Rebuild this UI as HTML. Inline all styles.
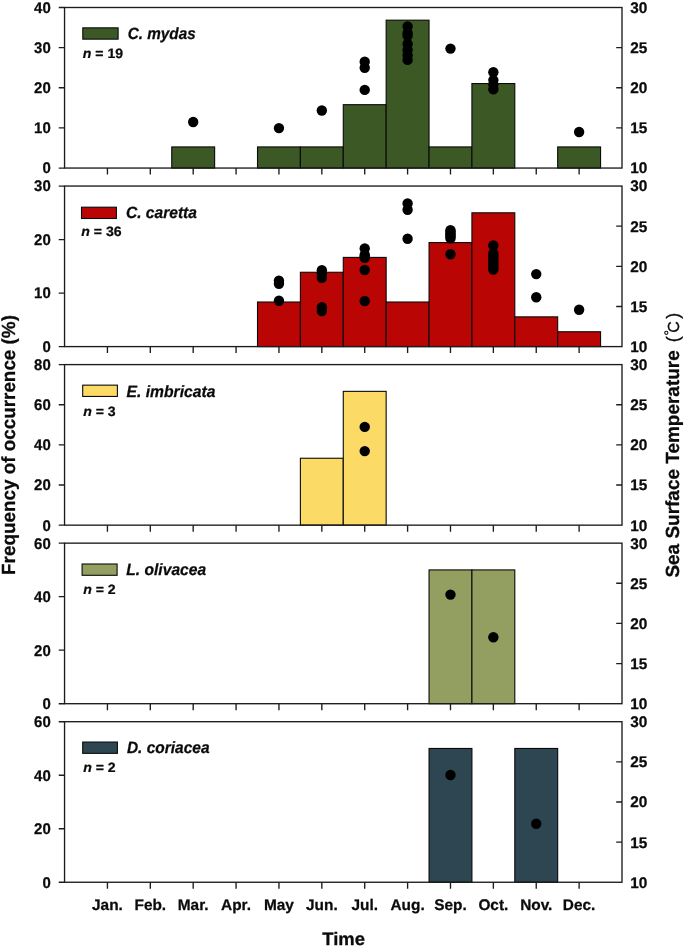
<!DOCTYPE html>
<html><head><meta charset="utf-8"><title>Sea turtle occurrence</title>
<style>html,body{margin:0;padding:0;background:#fff}svg{display:block;will-change:transform}text{text-rendering:geometricPrecision;font-family:"Liberation Sans",sans-serif;fill:#0b0b0b;stroke:#0b0b0b;stroke-width:0.26px;stroke-linejoin:round}</style></head><body>
<svg width="685" height="948" viewBox="0 0 685 948">
<rect x="0" y="0" width="685" height="948" fill="#ffffff"/>
<rect x="171.75" y="146.93" width="42.88" height="21.12" fill="#3b5825" stroke="#0a0a0a" stroke-width="1.1"/>
<rect x="257.51" y="146.93" width="42.88" height="21.12" fill="#3b5825" stroke="#0a0a0a" stroke-width="1.1"/>
<rect x="300.39" y="146.93" width="42.88" height="21.12" fill="#3b5825" stroke="#0a0a0a" stroke-width="1.1"/>
<rect x="343.28" y="104.68" width="42.88" height="63.38" fill="#3b5825" stroke="#0a0a0a" stroke-width="1.1"/>
<rect x="386.16" y="20.18" width="42.88" height="147.88" fill="#3b5825" stroke="#0a0a0a" stroke-width="1.1"/>
<rect x="429.04" y="146.93" width="42.88" height="21.12" fill="#3b5825" stroke="#0a0a0a" stroke-width="1.1"/>
<rect x="471.92" y="83.55" width="42.88" height="84.50" fill="#3b5825" stroke="#0a0a0a" stroke-width="1.1"/>
<rect x="557.68" y="146.93" width="42.88" height="21.12" fill="#3b5825" stroke="#0a0a0a" stroke-width="1.1"/>
<rect x="64.55" y="7.5" width="557.45" height="160.55" fill="none" stroke="#1c1c1c" stroke-width="1.35"/>
<path d="M107.43 168.05v6.5M150.31 168.05v6.5M193.19 168.05v6.5M236.07 168.05v6.5M278.95 168.05v6.5M321.83 168.05v6.5M364.72 168.05v6.5M407.60 168.05v6.5M450.48 168.05v6.5M493.36 168.05v6.5M536.24 168.05v6.5M579.12 168.05v6.5M64.55 168.05h-5.8M64.55 127.91h-5.8M64.55 87.78h-5.8M64.55 47.64h-5.8M64.55 7.50h-5.8M622.0 127.91h-5.8M622.0 87.78h-5.8M622.0 47.64h-5.8" stroke="#1c1c1c" stroke-width="1.35" fill="none"/>
<text transform="translate(50.70 173.45) scale(0.97 1.0)" font-size="15.4" font-weight="bold" text-anchor="end">0</text>
<text transform="translate(50.70 133.31) scale(0.97 1.0)" font-size="15.4" font-weight="bold" text-anchor="end">10</text>
<text transform="translate(50.70 93.18) scale(0.97 1.0)" font-size="15.4" font-weight="bold" text-anchor="end">20</text>
<text transform="translate(50.70 53.04) scale(0.97 1.0)" font-size="15.4" font-weight="bold" text-anchor="end">30</text>
<text transform="translate(50.70 12.90) scale(0.97 1.0)" font-size="15.4" font-weight="bold" text-anchor="end">40</text>
<text transform="translate(630.20 173.45) scale(1.0 1.0)" font-size="15.4" font-weight="bold">10</text>
<text transform="translate(630.20 133.31) scale(1.0 1.0)" font-size="15.4" font-weight="bold">15</text>
<text transform="translate(630.20 93.18) scale(1.0 1.0)" font-size="15.4" font-weight="bold">20</text>
<text transform="translate(630.20 53.04) scale(1.0 1.0)" font-size="15.4" font-weight="bold">25</text>
<text transform="translate(630.20 12.90) scale(1.0 1.0)" font-size="15.4" font-weight="bold">30</text>
<circle cx="193.19" cy="122.0" r="5.2" fill="#000"/>
<circle cx="278.95" cy="128.1" r="5.2" fill="#000"/>
<circle cx="321.83" cy="110.5" r="5.2" fill="#000"/>
<circle cx="364.72" cy="61.7" r="5.2" fill="#000"/>
<circle cx="364.72" cy="67.8" r="5.2" fill="#000"/>
<circle cx="364.72" cy="89.9" r="5.2" fill="#000"/>
<circle cx="407.60" cy="26.5" r="5.2" fill="#000"/>
<circle cx="407.60" cy="33.1" r="5.2" fill="#000"/>
<circle cx="407.60" cy="35.8" r="5.2" fill="#000"/>
<circle cx="407.60" cy="43.9" r="5.2" fill="#000"/>
<circle cx="407.60" cy="49.9" r="5.2" fill="#000"/>
<circle cx="407.60" cy="55.3" r="5.2" fill="#000"/>
<circle cx="407.60" cy="59.9" r="5.2" fill="#000"/>
<circle cx="450.48" cy="48.6" r="5.2" fill="#000"/>
<circle cx="493.36" cy="72.3" r="5.2" fill="#000"/>
<circle cx="493.36" cy="80.1" r="5.2" fill="#000"/>
<circle cx="493.36" cy="84.6" r="5.2" fill="#000"/>
<circle cx="493.36" cy="89.3" r="5.2" fill="#000"/>
<circle cx="579.12" cy="132.0" r="5.2" fill="#000"/>
<rect x="82.80" y="27.85" width="35.3" height="11.3" fill="#3b5825" stroke="#0a0a0a" stroke-width="1.1"/>
<text transform="translate(127.70 38.80) scale(1 1.0)" font-size="16.3" font-weight="bold" font-style="italic" textLength="68.0" lengthAdjust="spacingAndGlyphs">C. mydas</text>
<text transform="translate(82.80 58.40) scale(1 0.96)" font-size="14.1" font-weight="bold"><tspan font-style="italic">n</tspan> = 19</text>
<rect x="257.51" y="302.00" width="42.88" height="44.60" fill="#ba0505" stroke="#0a0a0a" stroke-width="1.1"/>
<rect x="300.39" y="272.27" width="42.88" height="74.33" fill="#ba0505" stroke="#0a0a0a" stroke-width="1.1"/>
<rect x="343.28" y="257.41" width="42.88" height="89.19" fill="#ba0505" stroke="#0a0a0a" stroke-width="1.1"/>
<rect x="386.16" y="302.00" width="42.88" height="44.60" fill="#ba0505" stroke="#0a0a0a" stroke-width="1.1"/>
<rect x="429.04" y="242.54" width="42.88" height="104.06" fill="#ba0505" stroke="#0a0a0a" stroke-width="1.1"/>
<rect x="471.92" y="212.81" width="42.88" height="133.79" fill="#ba0505" stroke="#0a0a0a" stroke-width="1.1"/>
<rect x="514.80" y="316.87" width="42.88" height="29.73" fill="#ba0505" stroke="#0a0a0a" stroke-width="1.1"/>
<rect x="557.68" y="331.73" width="42.88" height="14.87" fill="#ba0505" stroke="#0a0a0a" stroke-width="1.1"/>
<rect x="64.55" y="186.05" width="557.45" height="160.55" fill="none" stroke="#1c1c1c" stroke-width="1.35"/>
<path d="M107.43 346.6v6.5M150.31 346.6v6.5M193.19 346.6v6.5M236.07 346.6v6.5M278.95 346.6v6.5M321.83 346.6v6.5M364.72 346.6v6.5M407.60 346.6v6.5M450.48 346.6v6.5M493.36 346.6v6.5M536.24 346.6v6.5M579.12 346.6v6.5M64.55 346.60h-5.8M64.55 293.08h-5.8M64.55 239.57h-5.8M64.55 186.05h-5.8M622.0 306.46h-5.8M622.0 266.33h-5.8M622.0 226.19h-5.8" stroke="#1c1c1c" stroke-width="1.35" fill="none"/>
<text transform="translate(50.70 352.00) scale(0.97 1.0)" font-size="15.4" font-weight="bold" text-anchor="end">0</text>
<text transform="translate(50.70 298.48) scale(0.97 1.0)" font-size="15.4" font-weight="bold" text-anchor="end">10</text>
<text transform="translate(50.70 244.97) scale(0.97 1.0)" font-size="15.4" font-weight="bold" text-anchor="end">20</text>
<text transform="translate(50.70 191.45) scale(0.97 1.0)" font-size="15.4" font-weight="bold" text-anchor="end">30</text>
<text transform="translate(630.20 352.00) scale(1.0 1.0)" font-size="15.4" font-weight="bold">10</text>
<text transform="translate(630.20 311.86) scale(1.0 1.0)" font-size="15.4" font-weight="bold">15</text>
<text transform="translate(630.20 271.73) scale(1.0 1.0)" font-size="15.4" font-weight="bold">20</text>
<text transform="translate(630.20 231.59) scale(1.0 1.0)" font-size="15.4" font-weight="bold">25</text>
<text transform="translate(630.20 191.45) scale(1.0 1.0)" font-size="15.4" font-weight="bold">30</text>
<circle cx="278.95" cy="280.8" r="5.2" fill="#000"/>
<circle cx="278.95" cy="283.7" r="5.2" fill="#000"/>
<circle cx="278.95" cy="300.8" r="5.2" fill="#000"/>
<circle cx="321.83" cy="270.2" r="5.2" fill="#000"/>
<circle cx="321.83" cy="273.8" r="5.2" fill="#000"/>
<circle cx="321.83" cy="277.8" r="5.2" fill="#000"/>
<circle cx="321.83" cy="307.3" r="5.2" fill="#000"/>
<circle cx="321.83" cy="311.0" r="5.2" fill="#000"/>
<circle cx="364.72" cy="248.5" r="5.2" fill="#000"/>
<circle cx="364.72" cy="254.8" r="5.2" fill="#000"/>
<circle cx="364.72" cy="256.5" r="5.2" fill="#000"/>
<circle cx="364.72" cy="257.9" r="5.2" fill="#000"/>
<circle cx="364.72" cy="270.0" r="5.2" fill="#000"/>
<circle cx="364.72" cy="301.0" r="5.2" fill="#000"/>
<circle cx="407.60" cy="203.4" r="5.2" fill="#000"/>
<circle cx="407.60" cy="209.8" r="5.2" fill="#000"/>
<circle cx="407.60" cy="238.7" r="5.2" fill="#000"/>
<circle cx="450.48" cy="230.1" r="5.2" fill="#000"/>
<circle cx="450.48" cy="231.8" r="5.2" fill="#000"/>
<circle cx="450.48" cy="233.4" r="5.2" fill="#000"/>
<circle cx="450.48" cy="235.1" r="5.2" fill="#000"/>
<circle cx="450.48" cy="236.8" r="5.2" fill="#000"/>
<circle cx="450.48" cy="238.4" r="5.2" fill="#000"/>
<circle cx="450.48" cy="254.2" r="5.2" fill="#000"/>
<circle cx="493.36" cy="245.5" r="5.2" fill="#000"/>
<circle cx="493.36" cy="253.1" r="5.2" fill="#000"/>
<circle cx="493.36" cy="255.4" r="5.2" fill="#000"/>
<circle cx="493.36" cy="257.8" r="5.2" fill="#000"/>
<circle cx="493.36" cy="260.1" r="5.2" fill="#000"/>
<circle cx="493.36" cy="262.5" r="5.2" fill="#000"/>
<circle cx="493.36" cy="264.8" r="5.2" fill="#000"/>
<circle cx="493.36" cy="267.2" r="5.2" fill="#000"/>
<circle cx="493.36" cy="269.5" r="5.2" fill="#000"/>
<circle cx="536.24" cy="274.1" r="5.2" fill="#000"/>
<circle cx="536.24" cy="297.2" r="5.2" fill="#000"/>
<circle cx="579.12" cy="309.8" r="5.2" fill="#000"/>
<rect x="81.50" y="207.20" width="34.9" height="11.3" fill="#ba0505" stroke="#0a0a0a" stroke-width="1.1"/>
<text transform="translate(125.95 218.05) scale(1 1.0)" font-size="16.3" font-weight="bold" font-style="italic" textLength="71.0" lengthAdjust="spacingAndGlyphs">C. caretta</text>
<text transform="translate(81.30 236.25) scale(1 0.96)" font-size="14.1" font-weight="bold"><tspan font-style="italic">n</tspan> = 36</text>
<rect x="300.39" y="458.25" width="42.88" height="66.90" fill="#fbda66" stroke="#0a0a0a" stroke-width="1.1"/>
<rect x="343.28" y="391.36" width="42.88" height="133.79" fill="#fbda66" stroke="#0a0a0a" stroke-width="1.1"/>
<rect x="64.55" y="364.6" width="557.45" height="160.55" fill="none" stroke="#1c1c1c" stroke-width="1.35"/>
<path d="M107.43 525.15v6.5M150.31 525.15v6.5M193.19 525.15v6.5M236.07 525.15v6.5M278.95 525.15v6.5M321.83 525.15v6.5M364.72 525.15v6.5M407.60 525.15v6.5M450.48 525.15v6.5M493.36 525.15v6.5M536.24 525.15v6.5M579.12 525.15v6.5M64.55 525.15h-5.8M64.55 485.01h-5.8M64.55 444.88h-5.8M64.55 404.74h-5.8M64.55 364.60h-5.8M622.0 485.01h-5.8M622.0 444.88h-5.8M622.0 404.74h-5.8" stroke="#1c1c1c" stroke-width="1.35" fill="none"/>
<text transform="translate(50.70 530.55) scale(0.97 1.0)" font-size="15.4" font-weight="bold" text-anchor="end">0</text>
<text transform="translate(50.70 490.41) scale(0.97 1.0)" font-size="15.4" font-weight="bold" text-anchor="end">20</text>
<text transform="translate(50.70 450.27) scale(0.97 1.0)" font-size="15.4" font-weight="bold" text-anchor="end">40</text>
<text transform="translate(50.70 410.14) scale(0.97 1.0)" font-size="15.4" font-weight="bold" text-anchor="end">60</text>
<text transform="translate(50.70 370.00) scale(0.97 1.0)" font-size="15.4" font-weight="bold" text-anchor="end">80</text>
<text transform="translate(630.20 530.55) scale(1.0 1.0)" font-size="15.4" font-weight="bold">10</text>
<text transform="translate(630.20 490.41) scale(1.0 1.0)" font-size="15.4" font-weight="bold">15</text>
<text transform="translate(630.20 450.27) scale(1.0 1.0)" font-size="15.4" font-weight="bold">20</text>
<text transform="translate(630.20 410.14) scale(1.0 1.0)" font-size="15.4" font-weight="bold">25</text>
<text transform="translate(630.20 370.00) scale(1.0 1.0)" font-size="15.4" font-weight="bold">30</text>
<circle cx="364.72" cy="426.9" r="5.2" fill="#000"/>
<circle cx="364.72" cy="451.1" r="5.2" fill="#000"/>
<rect x="82.70" y="385.15" width="34.7" height="11.3" fill="#fbda66" stroke="#0a0a0a" stroke-width="1.1"/>
<text transform="translate(126.50 396.60) scale(1 1.0)" font-size="16.3" font-weight="bold" font-style="italic" textLength="88.9" lengthAdjust="spacingAndGlyphs">E. imbricata</text>
<text transform="translate(83.20 415.50) scale(1 0.96)" font-size="14.1" font-weight="bold"><tspan font-style="italic">n</tspan> = 3</text>
<rect x="429.04" y="569.91" width="42.88" height="133.79" fill="#939f60" stroke="#0a0a0a" stroke-width="1.1"/>
<rect x="471.92" y="569.91" width="42.88" height="133.79" fill="#939f60" stroke="#0a0a0a" stroke-width="1.1"/>
<rect x="64.55" y="543.15" width="557.45" height="160.55" fill="none" stroke="#1c1c1c" stroke-width="1.35"/>
<path d="M107.43 703.7v6.5M150.31 703.7v6.5M193.19 703.7v6.5M236.07 703.7v6.5M278.95 703.7v6.5M321.83 703.7v6.5M364.72 703.7v6.5M407.60 703.7v6.5M450.48 703.7v6.5M493.36 703.7v6.5M536.24 703.7v6.5M579.12 703.7v6.5M64.55 703.70h-5.8M64.55 650.18h-5.8M64.55 596.67h-5.8M64.55 543.15h-5.8M622.0 663.56h-5.8M622.0 623.42h-5.8M622.0 583.29h-5.8" stroke="#1c1c1c" stroke-width="1.35" fill="none"/>
<text transform="translate(50.70 709.10) scale(0.97 1.0)" font-size="15.4" font-weight="bold" text-anchor="end">0</text>
<text transform="translate(50.70 655.58) scale(0.97 1.0)" font-size="15.4" font-weight="bold" text-anchor="end">20</text>
<text transform="translate(50.70 602.07) scale(0.97 1.0)" font-size="15.4" font-weight="bold" text-anchor="end">40</text>
<text transform="translate(50.70 548.55) scale(0.97 1.0)" font-size="15.4" font-weight="bold" text-anchor="end">60</text>
<text transform="translate(630.20 709.10) scale(1.0 1.0)" font-size="15.4" font-weight="bold">10</text>
<text transform="translate(630.20 668.96) scale(1.0 1.0)" font-size="15.4" font-weight="bold">15</text>
<text transform="translate(630.20 628.82) scale(1.0 1.0)" font-size="15.4" font-weight="bold">20</text>
<text transform="translate(630.20 588.69) scale(1.0 1.0)" font-size="15.4" font-weight="bold">25</text>
<text transform="translate(630.20 548.55) scale(1.0 1.0)" font-size="15.4" font-weight="bold">30</text>
<circle cx="450.48" cy="594.6" r="5.2" fill="#000"/>
<circle cx="493.36" cy="637.3" r="5.2" fill="#000"/>
<rect x="82.10" y="564.00" width="35.0" height="11.3" fill="#939f60" stroke="#0a0a0a" stroke-width="1.1"/>
<text transform="translate(126.30 575.25) scale(1 1.0)" font-size="16.3" font-weight="bold" font-style="italic" textLength="79.8" lengthAdjust="spacingAndGlyphs">L. olivacea</text>
<text transform="translate(83.20 594.05) scale(1 0.96)" font-size="14.1" font-weight="bold"><tspan font-style="italic">n</tspan> = 2</text>
<rect x="429.04" y="748.46" width="42.88" height="133.79" fill="#2e4652" stroke="#0a0a0a" stroke-width="1.1"/>
<rect x="514.80" y="748.46" width="42.88" height="133.79" fill="#2e4652" stroke="#0a0a0a" stroke-width="1.1"/>
<rect x="64.55" y="721.7" width="557.45" height="160.55" fill="none" stroke="#1c1c1c" stroke-width="1.35"/>
<path d="M107.43 882.25v6.5M150.31 882.25v6.5M193.19 882.25v6.5M236.07 882.25v6.5M278.95 882.25v6.5M321.83 882.25v6.5M364.72 882.25v6.5M407.60 882.25v6.5M450.48 882.25v6.5M493.36 882.25v6.5M536.24 882.25v6.5M579.12 882.25v6.5M64.55 882.25h-5.8M64.55 828.73h-5.8M64.55 775.22h-5.8M64.55 721.70h-5.8M622.0 842.11h-5.8M622.0 801.98h-5.8M622.0 761.84h-5.8" stroke="#1c1c1c" stroke-width="1.35" fill="none"/>
<text transform="translate(50.70 887.65) scale(0.97 1.0)" font-size="15.4" font-weight="bold" text-anchor="end">0</text>
<text transform="translate(50.70 834.13) scale(0.97 1.0)" font-size="15.4" font-weight="bold" text-anchor="end">20</text>
<text transform="translate(50.70 780.62) scale(0.97 1.0)" font-size="15.4" font-weight="bold" text-anchor="end">40</text>
<text transform="translate(50.70 727.10) scale(0.97 1.0)" font-size="15.4" font-weight="bold" text-anchor="end">60</text>
<text transform="translate(630.20 887.65) scale(1.0 1.0)" font-size="15.4" font-weight="bold">10</text>
<text transform="translate(630.20 847.51) scale(1.0 1.0)" font-size="15.4" font-weight="bold">15</text>
<text transform="translate(630.20 807.38) scale(1.0 1.0)" font-size="15.4" font-weight="bold">20</text>
<text transform="translate(630.20 767.24) scale(1.0 1.0)" font-size="15.4" font-weight="bold">25</text>
<text transform="translate(630.20 727.10) scale(1.0 1.0)" font-size="15.4" font-weight="bold">30</text>
<circle cx="450.48" cy="775.0" r="5.2" fill="#000"/>
<circle cx="536.24" cy="823.7" r="5.2" fill="#000"/>
<rect x="82.70" y="742.05" width="34.7" height="11.3" fill="#2e4652" stroke="#0a0a0a" stroke-width="1.1"/>
<text transform="translate(126.90 752.90) scale(1 1.0)" font-size="16.3" font-weight="bold" font-style="italic" textLength="82.6" lengthAdjust="spacingAndGlyphs">D. coriacea</text>
<text transform="translate(83.20 771.90) scale(1 0.96)" font-size="14.1" font-weight="bold"><tspan font-style="italic">n</tspan> = 2</text>
<text transform="translate(107.43 910.10) scale(1 1.0)" font-size="15.4" font-weight="bold" text-anchor="middle">Jan.</text>
<text transform="translate(150.31 910.10) scale(1 1.0)" font-size="15.4" font-weight="bold" text-anchor="middle">Feb.</text>
<text transform="translate(193.19 910.10) scale(1 1.0)" font-size="15.4" font-weight="bold" text-anchor="middle">Mar.</text>
<text transform="translate(236.07 910.10) scale(1 1.0)" font-size="15.4" font-weight="bold" text-anchor="middle">Apr.</text>
<text transform="translate(278.95 910.10) scale(1 1.0)" font-size="15.4" font-weight="bold" text-anchor="middle">May</text>
<text transform="translate(321.83 910.10) scale(1 1.0)" font-size="15.4" font-weight="bold" text-anchor="middle">Jun.</text>
<text transform="translate(364.72 910.10) scale(1 1.0)" font-size="15.4" font-weight="bold" text-anchor="middle">Jul.</text>
<text transform="translate(407.60 910.10) scale(1 1.0)" font-size="15.4" font-weight="bold" text-anchor="middle">Aug.</text>
<text transform="translate(450.48 910.10) scale(1 1.0)" font-size="15.4" font-weight="bold" text-anchor="middle">Sep.</text>
<text transform="translate(493.36 910.10) scale(1 1.0)" font-size="15.4" font-weight="bold" text-anchor="middle">Oct.</text>
<text transform="translate(536.24 910.10) scale(1 1.0)" font-size="15.4" font-weight="bold" text-anchor="middle">Nov.</text>
<text transform="translate(579.12 910.10) scale(1 1.0)" font-size="15.4" font-weight="bold" text-anchor="middle">Dec.</text>
<text x="343.6" y="945.2" font-size="18" font-weight="bold" text-anchor="middle" textLength="42.8" lengthAdjust="spacingAndGlyphs">Time</text>
<text transform="translate(14.8 445.0) rotate(-90)" font-size="19" font-weight="bold" text-anchor="middle" textLength="259.8" lengthAdjust="spacingAndGlyphs">Frequency of occurrence (%)</text>
<g transform="translate(679.3 577.6) rotate(-90)">
<text x="0" y="0" font-size="19" font-weight="bold" textLength="227.3" lengthAdjust="spacingAndGlyphs">Sea Surface Temperature</text>
<text x="235.3" y="0" font-size="18" style="stroke-width:0.3px">(</text>
<circle cx="244.75" cy="-13.0" r="1.6" fill="none" stroke="#111" stroke-width="1.1"/>
<text x="244.8" y="0" font-size="16" style="stroke-width:0.3px">C</text>
<text x="258.9" y="0" font-size="18" style="stroke-width:0.3px">)</text>
</g>
</svg></body></html>
